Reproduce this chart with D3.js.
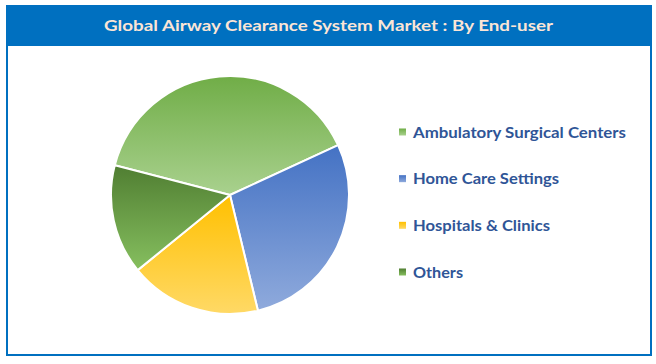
<!DOCTYPE html>
<html>
<head>
<meta charset="utf-8">
<script src="https://cdn.jsdelivr.net/npm/d3@7"></script>
<style>
  html, body { margin: 0; padding: 0; background: #fff; }
  svg { display: block; }
</style>
</head>
<body>
<svg id="chart" width="656" height="364"></svg>
<script>
// data (shares in %)
var categories = ['Ambulatory Surgical Centers', 'Home Care Settings', 'Hospitals & Clinics', 'Others']
var shares = [39.1, 28.1, 17.9, 14.9]
var topColors = ['#70ad47', '#4472c4', '#ffc000', '#507e32']
var bottomColors = ['#a9d18e', '#8faadc', '#ffd966', '#86bf5f']
var titleText = 'Global Airway Clearance System Market : By End-user'

var svg = d3.select('#chart')
var blue = '#0070c0'

// frame + title bar
svg.append('rect')
  .attr('x', 7).attr('y', 6)
  .attr('width', 644).attr('height', 349)
  .attr('fill', '#fff')
  .attr('stroke', blue)
  .attr('stroke-width', 2)

svg.append('rect')
  .attr('x', 6).attr('y', 5)
  .attr('width', 646).attr('height', 41)
  .attr('fill', blue)

svg.append('text')
  .attr('x', 328.5).attr('y', 31)
  .attr('text-anchor', 'middle')
  .attr('font-family', 'Lato, "Open Sans", sans-serif')
  .attr('font-weight', 'bold')
  .attr('font-size', 16)
  .attr('fill', '#fbe5d6')
  .attr('textLength', 449)
  .attr('lengthAdjust', 'spacingAndGlyphs')
  .text(titleText)

// gradients, one per slice (top darker, bottom lighter)
var defs = svg.append('defs')
categories.forEach(function (c, i) {
  var g = defs.append('linearGradient')
    .attr('id', 'grad' + i)
    .attr('x1', 0).attr('y1', 0).attr('x2', 0).attr('y2', 1)
  g.append('stop').attr('offset', '0%').attr('stop-color', topColors[i])
  g.append('stop').attr('offset', '100%').attr('stop-color', bottomColors[i])
})

// pie
var cx = 230, cy = 195, radius = 119
var startDeg = -75.5
var pie = d3.pie()
  .sort(null)
  .startAngle(startDeg * Math.PI / 180)
  .endAngle((startDeg + 360) * Math.PI / 180)
var arc = d3.arc().innerRadius(0).outerRadius(radius)

svg.append('g')
  .attr('transform', 'translate(' + cx + ',' + cy + ')')
  .selectAll('path')
  .data(pie(shares))
  .enter()
  .append('path')
  .attr('d', arc)
  .attr('fill', function (d, i) { return 'url(#grad' + i + ')' })
  .attr('stroke', '#fff')
  .attr('stroke-width', 2)
  .attr('stroke-linejoin', 'round')

// legend
var legendX = 399, legendY = d3.scaleLinear().domain([0, 3]).range([132, 272])
var legendWidths = [213, 146, 137, 50]

var items = svg.append('g')
  .selectAll('g')
  .data(categories)
  .enter()
  .append('g')
  .attr('transform', function (d, i) { return 'translate(' + legendX + ',' + legendY(i) + ')' })

items.append('rect')
  .attr('x', 0).attr('y', -3.5)
  .attr('width', 7).attr('height', 7)
  .attr('fill', function (d, i) { return 'url(#grad' + i + ')' })

items.append('text')
  .attr('x', 14).attr('y', 5.5)
  .attr('font-family', 'Lato, "Open Sans", sans-serif')
  .attr('font-weight', 'bold')
  .attr('font-size', 15)
  .attr('fill', '#2f5597')
  .attr('textLength', function (d, i) { return legendWidths[i] })
  .attr('lengthAdjust', 'spacingAndGlyphs')
  .text(function (d) { return d })
</script>
</body>
</html>
